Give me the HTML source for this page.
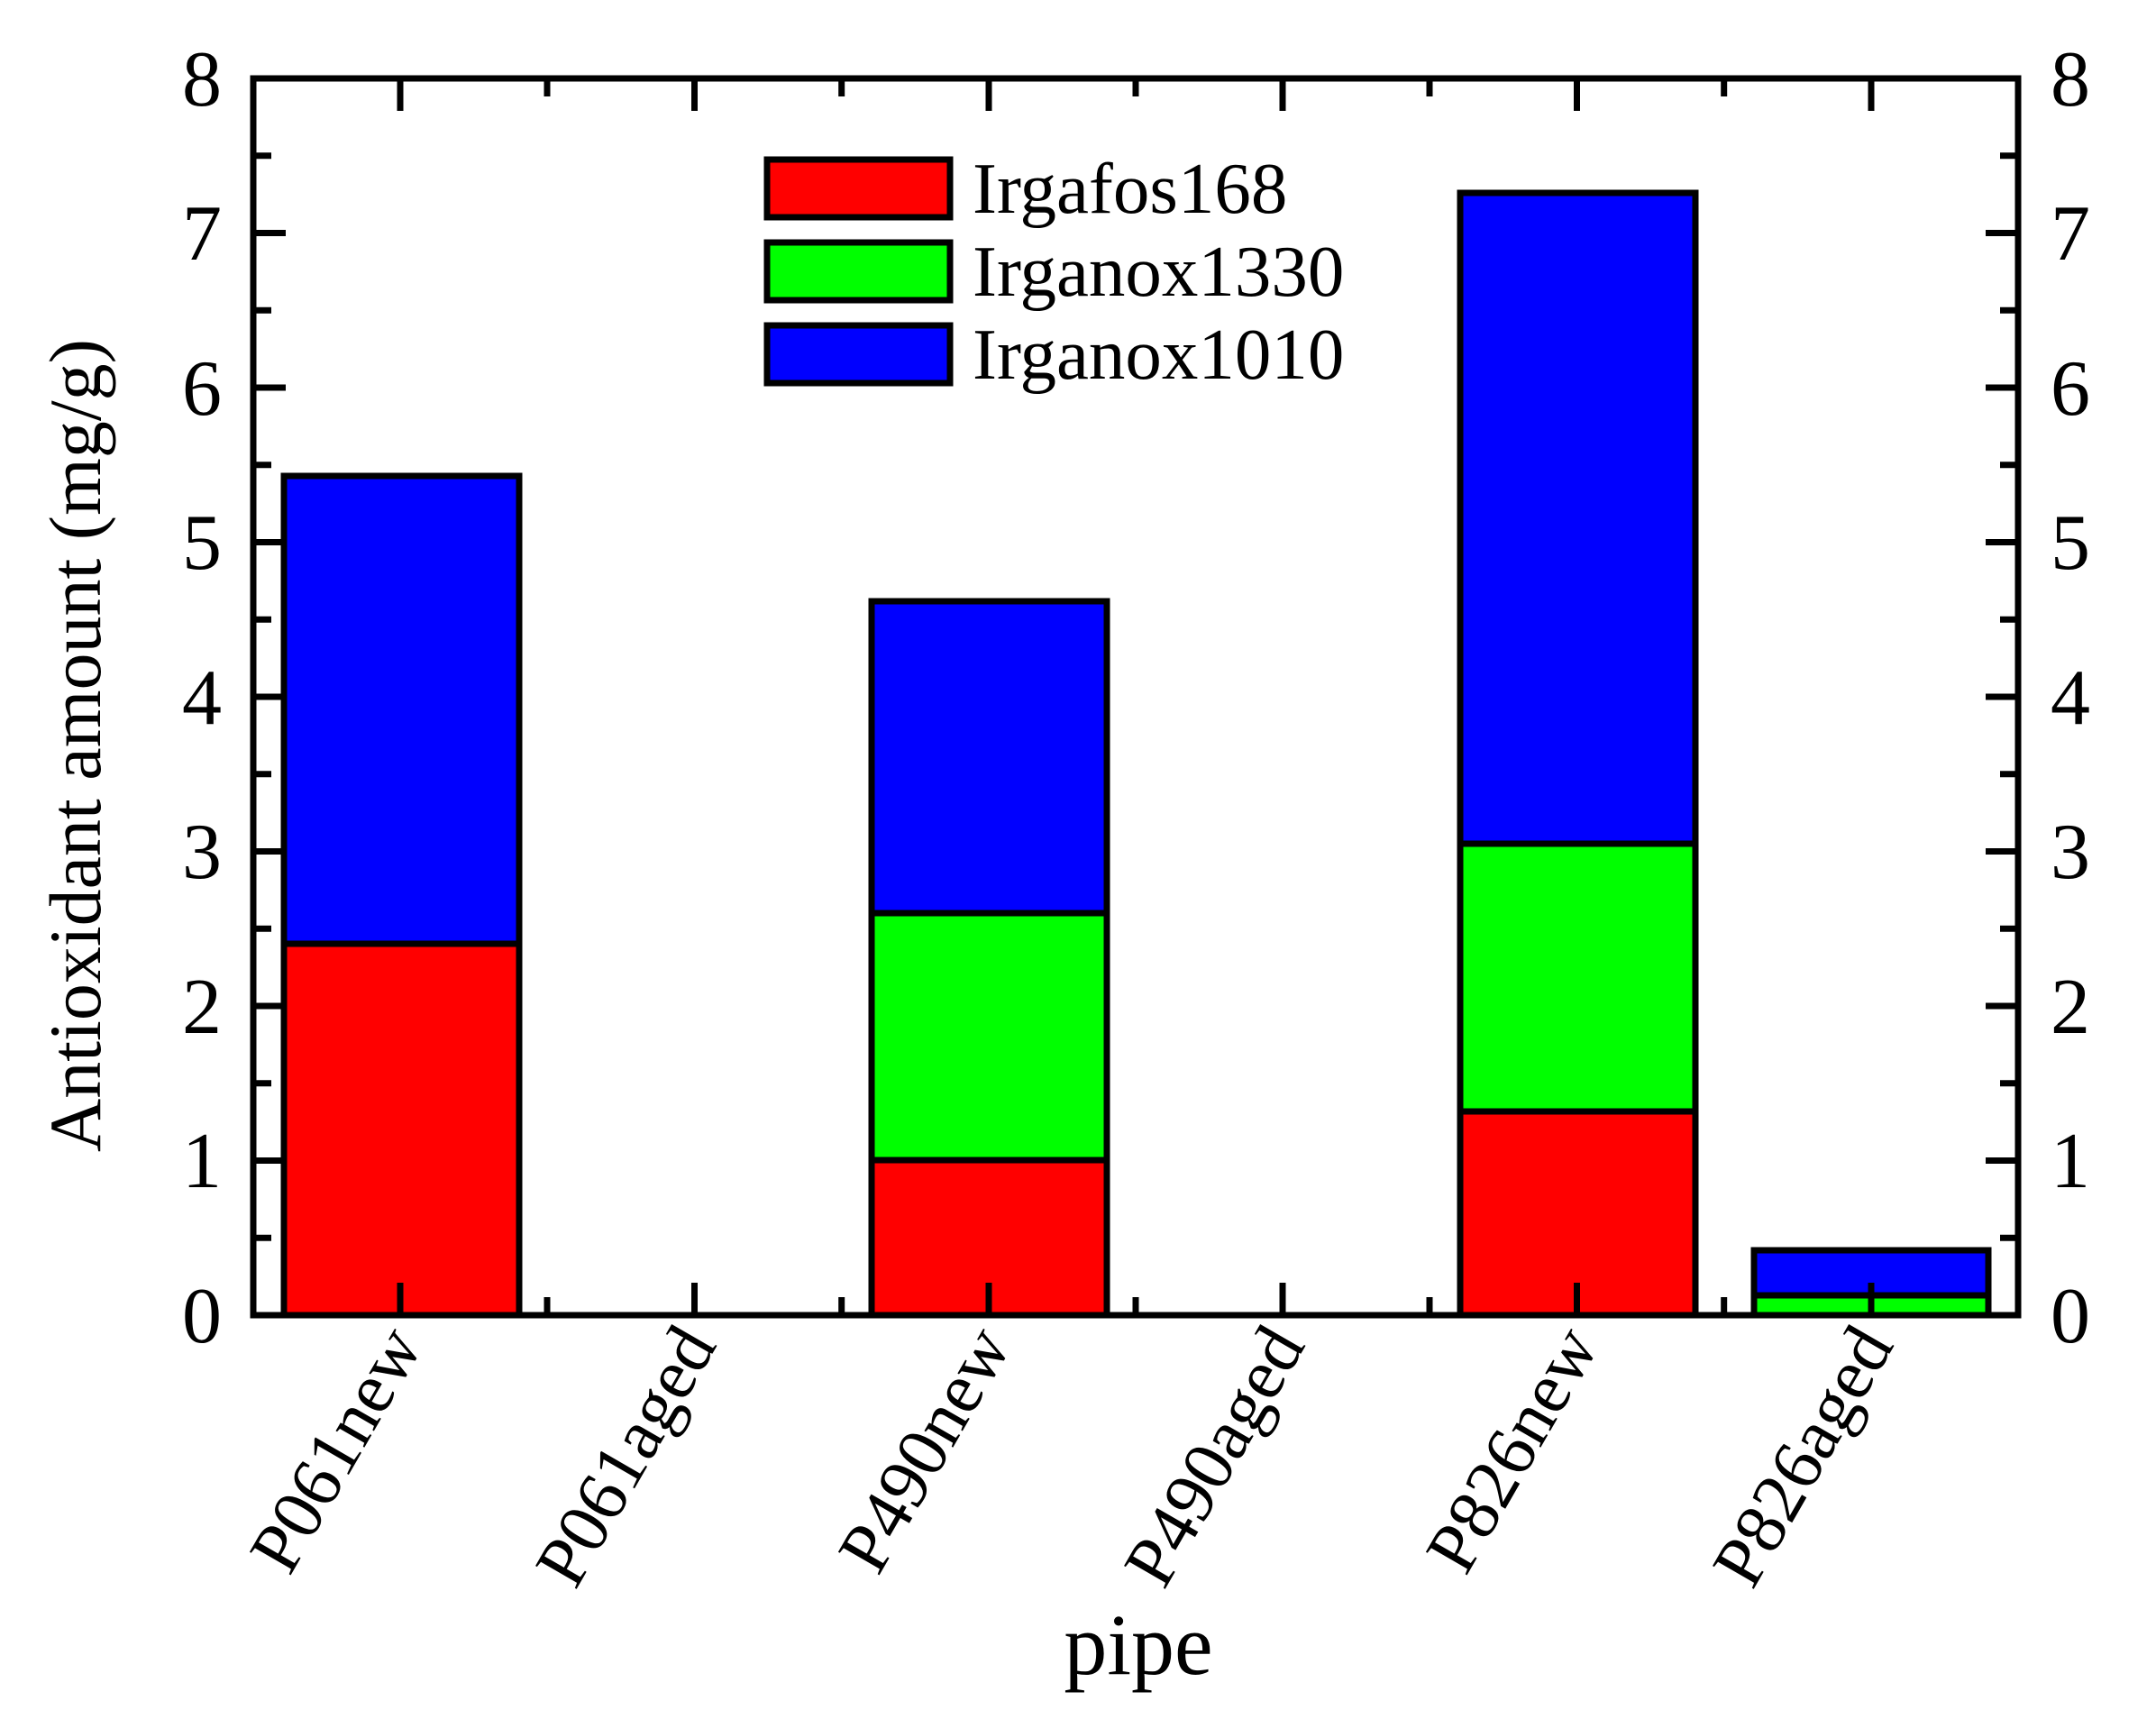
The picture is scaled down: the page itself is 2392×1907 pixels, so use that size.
<!DOCTYPE html>
<html><head><meta charset="utf-8"><style>
html,body{margin:0;padding:0;background:#fff;}
svg{display:block;}
text{font-family:"Liberation Serif",serif;fill:#000;}
</style></head><body>
<svg width="2392" height="1907" viewBox="0 0 2392 1907" xmlns="http://www.w3.org/2000/svg">
<g stroke="#000" stroke-width="7">
<rect x="315" y="1047" width="261" height="412" fill="#ff0000"/>
<rect x="315" y="528" width="261" height="519" fill="#0000ff"/>
<rect x="967" y="1287" width="261" height="172" fill="#ff0000"/>
<rect x="967" y="1013" width="261" height="274" fill="#00ff00"/>
<rect x="967" y="667" width="261" height="346" fill="#0000ff"/>
<rect x="1620" y="1233" width="261" height="226" fill="#ff0000"/>
<rect x="1620" y="936" width="261" height="297" fill="#00ff00"/>
<rect x="1620" y="214" width="261" height="722" fill="#0000ff"/>
<rect x="1946" y="1437" width="260" height="22" fill="#00ff00"/>
<rect x="1946" y="1387" width="260" height="50" fill="#0000ff"/>
</g>
<g stroke="#000" stroke-width="7" fill="none">
<rect x="281" y="87" width="1958" height="1372"/>
<path d="M281 87h36M281 258.5h36M281 430h36M281 601.5h36M281 773h36M281 944.5h36M281 1116h36M281 1287.5h36
M281 172.8h20M281 344.3h20M281 515.8h20M281 687.3h20M281 858.8h20M281 1030.3h20M281 1201.8h20M281 1373.3h20
M2239 87h-36M2239 258.5h-36M2239 430h-36M2239 601.5h-36M2239 773h-36M2239 944.5h-36M2239 1116h-36M2239 1287.5h-36
M2239 172.8h-20M2239 344.3h-20M2239 515.8h-20M2239 687.3h-20M2239 858.8h-20M2239 1030.3h-20M2239 1201.8h-20M2239 1373.3h-20"/>
<path d="M444 1459v-36M770.5 1459v-36M1097 1459v-36M1423 1459v-36M1749.5 1459v-36M2076 1459v-36
M607 1459v-20M933.7 1459v-20M1260 1459v-20M1586 1459v-20M1912.7 1459v-20
M444 87v36M770.5 87v36M1097 87v36M1423 87v36M1749.5 87v36M2076 87v36
M607 87v20M933.7 87v20M1260 87v20M1586 87v20M1912.7 87v20"/>
</g>
<g font-size="88" text-anchor="end">
<text x="246" y="1489">0</text><text x="246" y="1317">1</text><text x="246" y="1146">2</text>
<text x="246" y="974">3</text><text x="246" y="803">4</text><text x="246" y="631">5</text>
<text x="246" y="460">6</text><text x="246" y="288">7</text><text x="246" y="117">8</text>
</g>
<g font-size="88" text-anchor="start">
<text x="2275" y="1489">0</text><text x="2275" y="1317">1</text><text x="2275" y="1146">2</text>
<text x="2275" y="974">3</text><text x="2275" y="803">4</text><text x="2275" y="631">5</text>
<text x="2275" y="460">6</text><text x="2275" y="288">7</text><text x="2275" y="117">8</text>
</g>
<g font-size="80" text-anchor="end">
<text transform="translate(470,1492) rotate(-60)">P061new</text>
<text transform="translate(796,1492) rotate(-60)">P061aged</text>
<text transform="translate(1123,1492) rotate(-60)">P490new</text>
<text transform="translate(1449,1492) rotate(-60)">P490aged</text>
<text transform="translate(1775,1492) rotate(-60)">P826new</text>
<text transform="translate(2102,1492) rotate(-60)">P826aged</text>
</g>
<text x="1263" y="1857" font-size="96" text-anchor="middle">pipe</text>
<text transform="translate(111,827) rotate(-90)" font-size="82" text-anchor="middle">Antioxidant amount (mg/g)</text>
<g stroke="#000" stroke-width="7">
<rect x="851" y="177" width="203" height="64" fill="#ff0000"/>
<rect x="851" y="269" width="203" height="64" fill="#00ff00"/>
<rect x="851" y="361" width="203" height="64" fill="#0000ff"/>
</g>
<g font-size="81">
<text x="1079" y="236">Irgafos168</text>
<text x="1079" y="328">Irganox1330</text>
<text x="1079" y="420">Irganox1010</text>
</g>
</svg>
</body></html>
